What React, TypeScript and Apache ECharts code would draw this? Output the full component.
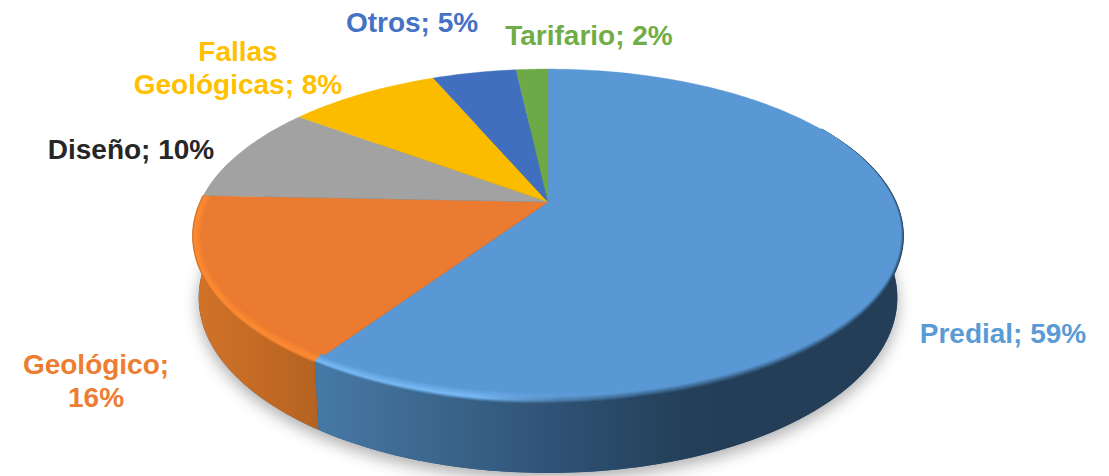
import React, { useEffect, useRef } from "react";
import * as echarts from "echarts";

// Categories in clockwise order, starting at 12 o'clock
const categories = ["Predial", "Geológico", "Diseño", "Fallas Geológicas", "Otros", "Tarifario"];
// Shares (labels show them rounded)
const shares = [59.3, 16.2, 9.5, 8.4, 4.65, 1.75];
const labels = ["Predial; 59%", "Geológico;\n16%", "Diseño; 10%", "Fallas\nGeológicas; 8%", "Otros; 5%", "Tarifario; 2%"];
const colors = ["#5998D4", "#EA7B30", "#A2A2A2", "#FBBC00", "#416FBF", "#6DA946"];
const labelColors = ["#5B9BD5", "#ED7D31", "#262626", "#FFC000", "#4472C4", "#70AD47"];

// Layout of the label blocks (centre of each block)
const labelX = [1003, 96, 131, 238, 412, 589];
const labelY = [333, 381, 149, 68, 22, 35];

// Perspective model of the disc
const CX = 548;
const K = -0.2036;
const TOP = { b: 347.6, a: 160, y0: 202 };
const BOTTOM = { b: 342, a: 168, y0: 262 };
const RIM_CY = 236;
const STEP = 1;

type Face = { b: number; a: number; y0: number };

function proj(deg: number, f: Face): [number, number] {
  const r = (deg * Math.PI) / 180;
  const X = Math.sin(r);
  const Y = -Math.cos(r);
  const den = 1 + K * Y;
  return [CX + (f.b * X) / den, f.y0 + (f.a * Y) / den];
}

function arc(from: number, to: number, f: Face): [number, number][] {
  const pts: [number, number][] = [];
  const n = Math.max(1, Math.ceil(Math.abs(to - from) / STEP));
  for (let i = 0; i <= n; i++) pts.push(proj(from + ((to - from) * i) / n, f));
  return pts;
}

function bounds(i: number): [number, number] {
  const total = shares.reduce((s, v) => s + v, 0);
  let acc = 0;
  for (let j = 0; j < i; j++) acc += shares[j];
  return [(acc / total) * 360, ((acc + shares[i]) / total) * 360];
}

function hex(c: string) {
  return [1, 3, 5].map((p) => parseInt(c.slice(p, p + 2), 16));
}
function hmix(a: string, b: string, t: number) {
  const A = hex(a);
  const B = hex(b);
  return "#" + A.map((x, i) => Math.round(x + (B[i] - x) * t).toString(16).padStart(2, "0")).join("");
}

const hGrad = (x0: number, x1: number, stops: [number, string][]) =>
  new echarts.graphic.LinearGradient(
    x0, 0, x1, 0,
    stops.map(([offset, color]) => ({ offset, color })),
    true as any
  );

const WALL_RANGE_PREDIAL = 80;
const WALL_RANGE_GEO_END = 285;
const BEVEL = 11;
const TAPER_START = 60;

function wallItem(params: any) {
  const i = params.dataIndex;
  const [s, e] = bounds(i);
  if (i === 0) {
    const upper = arc(WALL_RANGE_PREDIAL, e, TOP);
    const lower = arc(e, WALL_RANGE_PREDIAL, BOTTOM);
    return {
      type: "polygon",
      shape: { points: [...upper, ...lower] },
      style: {
        fill: hGrad(proj(e, TOP)[0], 720, [
          [0, "#4679A6"],
          [0.3, "#3C668C"],
          [0.58, "#2F5376"],
          [0.9, "#24405A"],
          [1, "#233E56"],
        ]),
      },
    };
  }
  if (i === 1) {
    const upper = arc(s, WALL_RANGE_GEO_END, TOP);
    const lower = arc(WALL_RANGE_GEO_END, s, BOTTOM);
    return {
      type: "polygon",
      shape: { points: [...upper, ...lower] },
      style: {
        fill: hGrad(194, proj(s, TOP)[0], [
          [0, "#D27329"],
          [1, "#B66321"],
        ]),
      },
    };
  }
  return { type: "group", children: [] };
}

function shadowItem(params: any) {
  if (params.dataIndex !== 0) return { type: "group", children: [] };
  return {
    type: "polygon",
    shape: { points: arc(0, 360, BOTTOM) },
    style: { fill: "#2F5376", shadowBlur: 16, shadowColor: "rgba(0,0,0,0.32)", shadowOffsetX: 0, shadowOffsetY: 6 },
  };
}

function topItem(params: any) {
  const i = params.dataIndex;
  const [s, e] = bounds(i);
  const apex: [number, number] = [CX, TOP.y0];
  return {
    type: "polygon",
    shape: { points: [apex, ...arc(s, e, TOP)] },
    style: { fill: colors[i], stroke: colors[i], lineWidth: 0.4 },
  };
}

function bevelPoint(deg: number, d: number, xFactor: number): [number, number] {
  const [x, y] = proj(deg, TOP);
  const f = Math.min(1, Math.max(0, (deg - TAPER_START) / 50));
  const de = d * f;
  return [CX + (x - CX) * (1 - (de * xFactor) / 355), RIM_CY + (y - RIM_CY) * (1 - de / 167)];
}

function bevelItem(params: any) {
  const i = params.dataIndex;
  if (i > 1) return { type: "group", children: [] };
  const [s, e] = bounds(i);
  const from = i === 0 ? TAPER_START : s;
  const to = e;
  const xFactor = i === 0 ? 0.45 : 0.85;
  const children: any[] = [];
  for (let d = 0; d <= BEVEL; d++) {
    const t = d / BEVEL;
    const pts: [number, number][] = [];
    const n = Math.ceil(to - from);
    for (let j = 0; j <= n; j++) pts.push(bevelPoint(from + ((to - from) * j) / n, d, xFactor));
    let stroke: any;
    if (i === 0) {
      const left = t < 0.25 ? hmix("#4679A6", "#78B9F6", t / 0.25) : hmix("#78B9F6", colors[0], (t - 0.25) / 0.75);
      const right = hmix("#24405A", colors[0], Math.min(1, t * 1.5));
      stroke = hGrad(proj(e, TOP)[0], 640, [
        [0, left],
        [0.5, left],
        [0.75, hmix(left, right, 0.7)],
        [1, right],
      ]);
    } else {
      stroke = t < 0.2 ? hmix("#D27329", "#FF8C33", t / 0.2) : hmix("#FF8C33", colors[1], (t - 0.2) / 0.8);
    }
    children.push({
      type: "polyline",
      shape: { points: pts },
      style: { fill: "none", stroke, lineWidth: 1.7 },
    });
  }
  return { type: "group", children };
}

function labelItem(params: any) {
  const i = params.dataIndex;
  return {
    type: "text",
    x: labelX[i],
    y: labelY[i],
    style: {
      text: labels[i],
      fill: labelColors[i],
      font: 'bold 28px "Liberation Sans", Arial, sans-serif',
      lineHeight: 33,
      align: "center",
      verticalAlign: "middle",
    },
  };
}

export default function App() {
  const ref = useRef<HTMLDivElement>(null);
  useEffect(() => {
    const chart = echarts.init(ref.current!, null, { renderer: "svg" });
    const data = categories.map((name, i) => ({ name, value: shares[i] }));
    const layer = (renderItem: any, z: number) => ({
      type: "custom",
      coordinateSystem: "none",
      renderItem,
      data,
      z,
      silent: true,
    });
    chart.setOption({
      animation: false,
      backgroundColor: "#ffffff",
      series: [
        layer(shadowItem, 1),
        layer(wallItem, 2),
        layer(topItem, 3),
        layer(bevelItem, 4),
        layer(labelItem, 5),
      ],
    } as any);
    return () => chart.dispose();
  }, []);
  return <div ref={ref} style={{ position: "fixed", left: 0, top: 0, width: 1109, height: 476 }} />;
}
